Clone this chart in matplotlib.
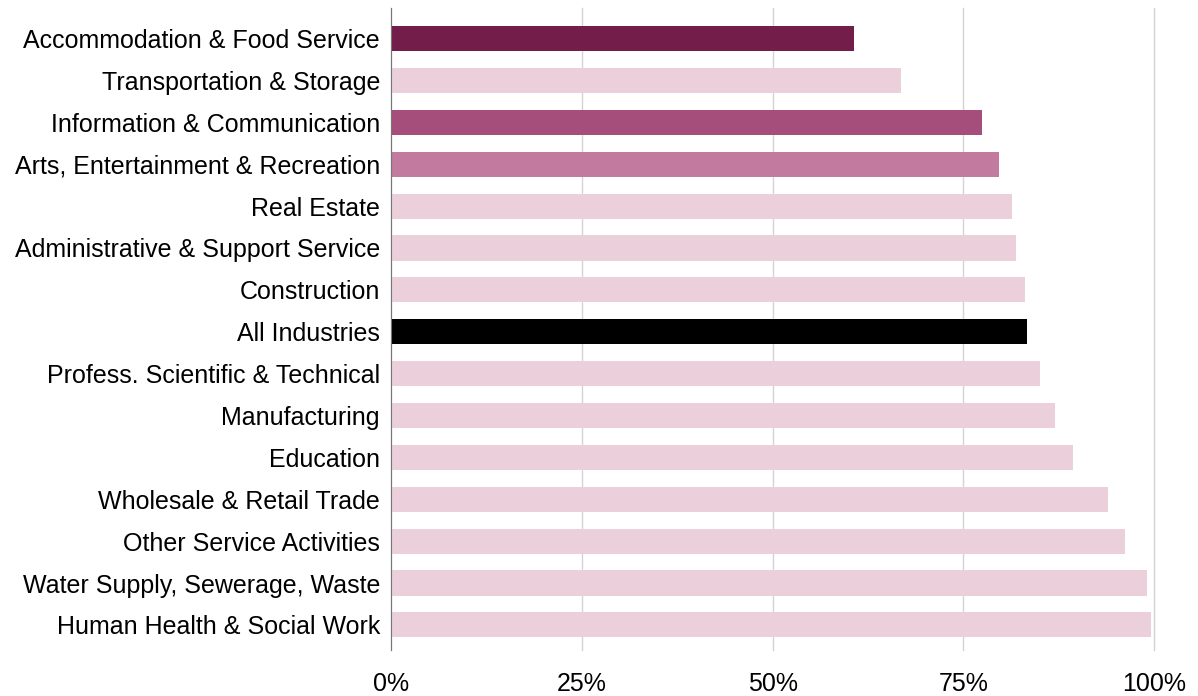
import matplotlib.pyplot as plt
from matplotlib.ticker import PercentFormatter

plt.rcParams['font.family'] = ['Liberation Sans', 'DejaVu Sans']

# Share of businesses by industry, top to bottom
industries = [
    'Accommodation & Food Service',
    'Transportation & Storage',
    'Information & Communication',
    'Arts, Entertainment & Recreation',
    'Real Estate',
    'Administrative & Support Service',
    'Construction',
    'All Industries',
    'Profess. Scientific & Technical',
    'Manufacturing',
    'Education',
    'Wholesale & Retail Trade',
    'Other Service Activities',
    'Water Supply, Sewerage, Waste',
    'Human Health & Social Work',
]
shares = [0.607, 0.668, 0.774, 0.797, 0.814, 0.819, 0.831, 0.834,
          0.851, 0.870, 0.894, 0.940, 0.962, 0.990, 0.996]

light = '#ebd0dc'
highlight = {
    'Accommodation & Food Service': '#731d4a',
    'Information & Communication': '#a54d7b',
    'Arts, Entertainment & Recreation': '#c27a9f',
    'All Industries': '#000000',
}
colors = [highlight.get(name, light) for name in industries]

fig = plt.figure(figsize=(11.98, 6.96), dpi=100)
ax = fig.add_axes([0.3264, 0.066, 0.637, 0.9225])

ypos = list(range(len(industries)))
ax.barh(ypos, shares, height=0.6, color=colors, zorder=2)

ax.set_ylim(len(industries) - 0.4, -0.73)
ax.set_xlim(0, 1.0)
ax.set_yticks(ypos)
ax.set_yticklabels(industries, fontsize=18)
ax.set_xticks([0, 0.25, 0.5, 0.75, 1.0])
ax.xaxis.set_major_formatter(PercentFormatter(1.0, decimals=0))
ax.tick_params(axis='x', length=0, pad=16, labelsize=18)
ax.tick_params(axis='y', length=0, pad=8)

ax.grid(axis='x', color='#d4d4d4', linewidth=1, zorder=0)
for line in ax.get_xgridlines():
    line.set_clip_on(False)
for side in ['top', 'right', 'bottom']:
    ax.spines[side].set_visible(False)
ax.spines['left'].set_color('#777777')
ax.spines['left'].set_zorder(3)

fig.savefig('out.png', dpi=100)
